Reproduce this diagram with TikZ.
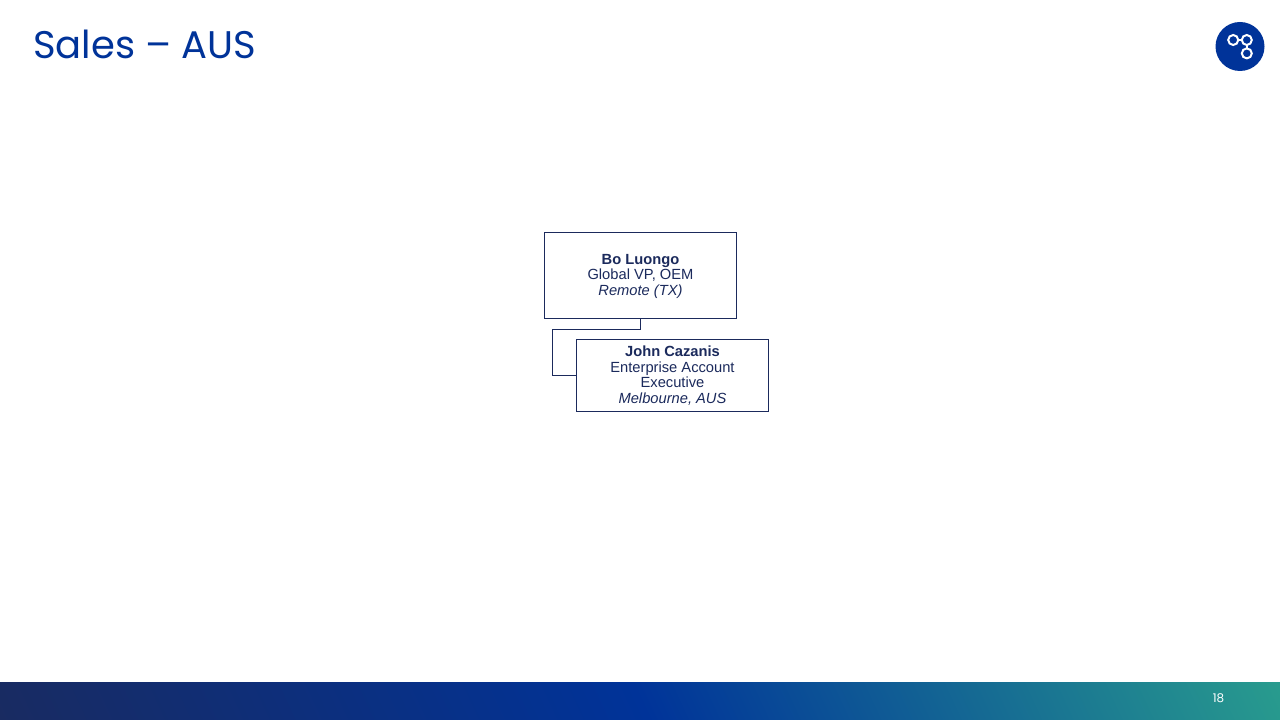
\documentclass[tikz,border=0pt]{standalone}
\usepackage{fontspec}
\setmainfont{Liberation Sans}
\newfontfamily\poppins{Poppins}
\usetikzlibrary{calc}
\definecolor{navy}{HTML}{1B2A5C}
\definecolor{brand}{HTML}{003399}
\definecolor{teal}{HTML}{2CA58D}
\pgfdeclarehorizontalshading{footbar}{100bp}{color(0bp)=(navy);color(25bp)=(navy);color(50bp)=(brand);color(75bp)=(teal);color(100bp)=(teal)}

\begin{document}
\begin{tikzpicture}[x=1pt,y=1pt,
  person/.style={draw=navy,line width=0.9pt,outer sep=0pt,fill=white,text=navy,align=center,minimum width=192pt,inner sep=0pt,font=\fontsize{14.7}{15.5}\selectfont},
  ring/.style={circle,draw=white,line width=2pt,minimum size=10pt,inner sep=0pt,outer sep=0pt},
  link/.style={draw=navy,line width=0.8pt}]
  \useasboundingbox (0,0) rectangle (1280,720);
  \fill[white] (0,0) rectangle (1280,720);
  \begin{scope}
    \clip (0,0) rectangle (1280,37.6);
    \shade[shading=footbar,shading angle=25] (0,-621) rectangle (1280,659);
  \end{scope}
  \node[anchor=west,inner sep=0pt,text=brand,font=\poppins\fontsize{38.5}{39}\selectfont] (title) at (33,676) {Sales – AUS};
  \node[text=white,inner sep=0pt,font=\poppins\fontsize{12}{12}\selectfont] (page) at (1218.5,22) {18};
  \node[circle,fill=brand,minimum size=49pt,inner sep=0pt] (logo) at (1240,673.5) {};
  \node[ring] (ra) at (1233.2,680) {};
  \node[ring] (rb) at (1246.8,680) {};
  \node[ring] (rc) at (1246.8,666.6) {};
  \draw[white,line width=2pt] (ra)--(rb);\draw[white,line width=2pt] (rb)--(rc);
  \node[person,minimum height=86pt,anchor=north west] (bo) at (544.5,487.5) {\rule{0pt}{12pt}\textbf{Bo Luongo}\\Global VP, OEM\\\textit{Remote (TX)}};
  \node[person,minimum height=72pt,anchor=north west] (john) at ($(bo.south west)+(32,-21)$) {\textbf{John Cazanis}\\Enterprise Account\\Executive\\\textit{Melbourne, AUS}};
  \draw[link] (bo.south) -- ++(0,-10.5) -| ($(john.west)+(-24,0)$) -- (john.west);
\end{tikzpicture}
\end{document}
